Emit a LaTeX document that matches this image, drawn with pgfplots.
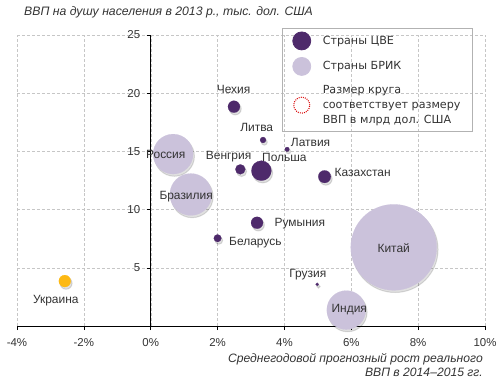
\documentclass[border=0pt]{standalone}
\usepackage{fontspec}
\setmainfont{Liberation Sans}
\newfontfamily\legfont{DejaVu Sans}
\usepackage{pgfplots}
\pgfplotsset{compat=1.18}
\usepackage{pgfplotstable}
\definecolor{cee}{HTML}{4E2A6B}
\definecolor{bric}{HTML}{CBC2DB}
\definecolor{ukr}{HTML}{FDB913}
\definecolor{txt}{HTML}{333333}

\pgfplotstableread{
x y r
2.49 18.84 6
3.36 15.98 3
4.08 15.18 2.3
2.68 13.46 5
3.31 13.34 10
5.20 12.83 6.3
3.18 8.87 6
2.00 7.54 3.8
4.98 3.58 1.6
}\ceedata
\pgfplotstableread{
x y r
0.67 14.77 20
1.20 11.30 21
7.27 6.76 43
5.85 1.37 19.5
}\bricdata
\pgfplotstableread{
x y r
-2.57 3.86 6
}\ukrdata

\pgfplotsset{
  bubble/.style={forget plot, scatter, only marks, mark=*, point meta=explicit,
    scatter/use mapped color={draw=#1, fill=#1},
    mark options={line width=0.1pt},
    visualization depends on={\thisrow{r} \as \rad},
    scatter/@pre marker code/.append style={/tikz/mark size=\rad bp}},
  shadow/.style={forget plot, scatter, only marks, mark=*, point meta=explicit,
    scatter/use mapped color={draw=black, fill=black},
    mark options={xshift=1.3bp, yshift=-2.2bp, opacity=0.12, line width=1pt},
    visualization depends on={\thisrow{r} \as \rad},
    scatter/@pre marker code/.append style={/tikz/mark size=\rad bp}},
}

\begin{document}
\begin{tikzpicture}
\path[use as bounding box] (-17bp,-57bp) rectangle (483bp,326bp);
\begin{axis}[
  name=ax, at={(0,0)}, anchor=south west,
  scale only axis, width=468bp, height=291bp,
  xmin=-4, xmax=10, ymin=0, ymax=25,
  axis x line=bottom, axis y line=center,
  axis line style={-, black, line width=0.6pt},
  xtick={-4,-2,...,10},
  xticklabels={-4\%,-2\%,0\%,2\%,4\%,6\%,8\%,10\%},
  ytick={5,10,...,25},
  yticklabels={5,10,15,20,25},
  tick align=outside, major tick length=4bp,
  tick style={black, line width=0.6pt},
  ticklabel style={font=\fontsize{11.5}{13}\selectfont, text=txt},
  xticklabel style={yshift=-5bp},
  yticklabel style={xshift=-3bp},
  grid=major,
  major grid style={gray!45, densely dashed, line width=0.4pt},
  legend style={at={(0.567,1.024)}, anchor=north west, draw=gray!60, line width=0.8pt, fill=none,
    font=\legfont\fontsize{11.2}{15.5}\selectfont, text=txt, row sep=7.5bp, column sep=10bp,
    inner xsep=10bp, inner ysep=3.5bp,
    cells={anchor=west, align=left}},
  legend cell align=left,
]
\addlegendimage{only marks, mark=*, mark size=9bp, mark options={draw=cee, fill=cee}}
\addlegendentry{Страны ЦВЕ}
\addlegendimage{only marks, mark=*, mark size=9bp, mark options={draw=bric, fill=bric}}
\addlegendentry{Страны БРИК}
\addlegendimage{only marks, mark=*, mark size=8bp, mark options={draw=red!85!black, fill=white, line width=1.1pt, dash pattern=on 0.9pt off 1.2pt}}
\addlegendentry{Размер круга\\соответствует размеру\\ВВП в млрд дол. США}

\addplot[shadow] table[x=x, y=y, meta=r] {\bricdata};
\addplot[shadow] table[x=x, y=y, meta=r] {\ceedata};
\addplot[shadow] table[x=x, y=y, meta=r] {\ukrdata};
\addplot[bubble=bric] table[x=x, y=y, meta=r] {\bricdata};
\addplot[bubble=cee] table[x=x, y=y, meta=r] {\ceedata};
\addplot[bubble=ukr] table[x=x, y=y, meta=r] {\ukrdata};

\coordinate (l1) at (axis cs:2.48,20.36);
\coordinate (l2) at (axis cs:3.17,17.1);
\coordinate (l3) at (axis cs:4.19,15.8);
\coordinate (l4) at (axis cs:0.45,14.78);
\coordinate (l5) at (axis cs:2.33,14.52);
\coordinate (l6) at (axis cs:4.0,14.52);
\coordinate (l7) at (axis cs:6.34,13.2);
\coordinate (l8) at (axis cs:1.06,11.08);
\coordinate (l9) at (axis cs:4.46,8.76);
\coordinate (l10) at (axis cs:3.13,7.13);
\coordinate (l11) at (axis cs:7.27,6.7);
\coordinate (l12) at (axis cs:4.7,4.38);
\coordinate (l13) at (axis cs:5.94,1.37);
\coordinate (l14) at (axis cs:-2.84,2.15);
\end{axis}
\begin{scope}[every node/.style={font=\fontsize{12}{14}\selectfont, text=txt, inner sep=0pt}]
\node at (l1) {Чехия};
\node at (l2) {Литва};
\node[anchor=west] at (l3) {Латвия};
\node at (l4) {Россия};
\node at (l5) {Венгрия};
\node at (l6) {Польша};
\node at (l7) {Казахстан};
\node at (l8) {Бразилия};
\node at (l9) {Румыния};
\node at (l10) {Беларусь};
\node at (l11) {Китай};
\node at (l12) {Грузия};
\node at (l13) {Индия};
\node at (l14) {Украина};
\end{scope}
\node[anchor=west, font=\fontsize{12.3}{14}\selectfont\itshape, text=txt, inner sep=0pt]
  at ([xshift=7bp, yshift=23bp]ax.north west) {ВВП на душу населения в 2013 р., тыс. дол. США};
\node[anchor=north east, align=right, font=\fontsize{12.2}{14}\selectfont\itshape, text=txt, inner sep=0pt]
  at ([xshift=-2bp, yshift=-27bp]ax.south east) {Среднегодовой прогнозный рост реального\\ВВП в 2014–2015 гг.};
\end{tikzpicture}
\end{document}
